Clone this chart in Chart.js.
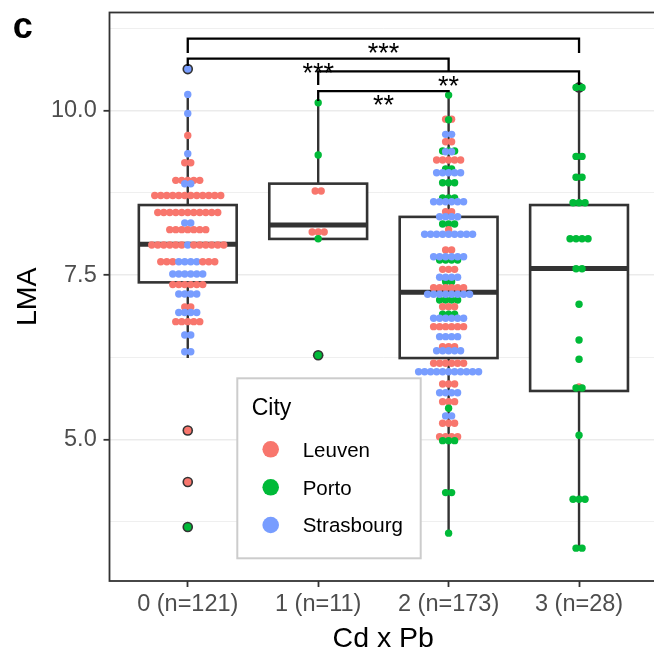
<!DOCTYPE html>
<html><head><meta charset="utf-8">
<script src="https://cdn.jsdelivr.net/npm/chart.js@4.4.1/dist/chart.umd.min.js"></script>
<style>
html,body{margin:0;padding:0;background:#fff;overflow:hidden;width:654px;height:654px}
#wrap{position:absolute;left:0;top:0;width:664px;height:654px}
</style></head><body>
<div id="wrap"><canvas id="c" width="664" height="654"></canvas></div>
<script>
// ---------- data ----------
const categories = ['0 (n=121)', '1 (n=11)', '2 (n=173)', '3 (n=28)'];
const xTitle = 'Cd x Pb';
const yTitle = 'LMA';
const panelTag = 'c';
const cities = ['Leuven', 'Porto', 'Strasbourg'];
const cityCodes = ['L', 'P', 'S'];
const cityColors = ['#F8766D', '#00BA38', '#789DFF'];
const yMajorTicks = [5, 7.5, 10];
const yTickLabels = ['5.0', '7.5', '10.0'];
const yMinorTicks = [3.75, 6.25, 8.75, 11.25];

// boxplot statistics per group
const boxQ1     = [7.39, 8.05, 6.24, 5.74];
const boxMedian = [7.97, 8.26, 7.24, 7.60];
const boxQ3     = [8.565, 8.89, 8.385, 8.565];
const whiskerLo = [6.24, 8.05, 3.58, 3.35];
const whiskerHi = [10.25, 10.12, 10.24, 10.35];

// beeswarm rows: LMA value of the row, and the cities of its points from left to right
const g0LMA = [10.63, 10.246, 9.957, 9.623, 9.344, 9.207, 8.94, 8.888, 8.709, 8.451, 8.292, 8.191, 7.957, 7.704, 7.517, 7.356, 7.213, 7.016, 6.933, 6.793, 6.591, 6.337, 5.14, 4.356, 3.673];
const g0Pts = ['S','S','S','L','S','LL','LLLLL','SS','LLLLLLLLLLLL','LLLLLLLLLLL','SS','LLLLLLL','LLLLLLSLLLLLL','LLLSSSSLLL','SSSSSS','LLLLLL','SSSS','LL','SSSS','LLLLL','SS','SS','L','L','P'];

const g1LMA = [10.12, 9.324, 8.778, 8.155, 8.053, 6.282];
const g1Pts = ['P','P','LL','LLL','P','P'];

const g2LMA = [10.235, 9.87, 9.86, 9.639, 9.526, 9.385, 9.374, 9.248, 9.115, 9.055, 8.904, 8.671, 8.615, 8.463, 8.387, 8.276, 8.19, 8.12, 7.882, 7.73, 7.78, 7.588, 7.40, 7.467, 7.309, 7.122, 7.209, 7.02, 6.905, 6.844, 6.717, 6.565, 6.413, 6.352, 6.161, 6.033, 5.847, 5.714, 5.578, 5.478, 5.361, 5.25, 5.046, 4.985, 4.196, 3.58];
const g2Pts = ['P','LL','P','SS','LL','PPP','SS','LLLLL','PP','SSSSS','PPP','PPP','SSSSSS','LL','SSSS','PPP','L','SSSSSSSSS','LL','PPPP','SSSSSS','LLL','PP','SSSS','LLLLLL','PPPP','SSSSSSSS','LLL','PPP','SSSSSS','LLLLLL','SSSS','LLL','SSSSS','LLLLLL','SSSSSSSSSSS','LLL','SSSS','LLL','P','SS','LLL','LLLL','PPP','PP','P'];

const g3LMA = [10.352, 9.304, 8.986, 8.60, 8.053, 7.598, 7.057, 6.515, 6.222, 5.80, 5.786, 5.068, 4.096, 3.352];
const g3Pts = ['PP','PP','PP','PPP','PPPP','PP','P','P','P','L','PP','P','PPP','PP'];

// significance brackets
const brkFrom  = [1, 1, 2, 2];
const brkTo    = [4, 3, 4, 3];
const brkY     = [11.093, 10.79, 10.595, 10.296];
const brkFromEnd = [10.873, 10.676, 10.387, 10.144];
const brkToEnd   = [10.873, 10.60, 10.39, 10.28];
const brkLabel = ['***', '***', '**', '**'];

// ---------- styling constants ----------
const FONT = "'Liberation Sans', Arial, Helvetica, sans-serif";
const swarmStep = 0.046;   // x units between neighbouring swarm points
const boxHalf = 0.375;
const groupLMA = [g0LMA, g1LMA, g2LMA, g3LMA];
const groupPts = [g0Pts, g1Pts, g2Pts, g3Pts];

const swarm = [], outliers = [];
groupLMA.forEach((rows, g) => {
  rows.forEach((v, r) => {
    const s = groupPts[g][r];
    const n = s.length;
    if (v > whiskerHi[g] + 1e-6 || v < whiskerLo[g] - 1e-6) outliers.push({x: g + 1, y: v});
    for (let i = 0; i < n; i++) {
      swarm.push({x: g + 1 + (i - (n - 1) / 2) * swarmStep, y: v, c: cityCodes.indexOf(s[i])});
    }
  });
});

Chart.defaults.font.family = FONT;

function textMid(ctx, str) {
  const m = ctx.measureText(str);
  return (m.actualBoundingBoxAscent - m.actualBoundingBoxDescent) / 2;
}

const custom = {
  id: 'custom',
  beforeDatasetsDraw(chart) {
    const {ctx, scales: {x, y}} = chart;
    ctx.save();
    ctx.strokeStyle = '#333333';
    ctx.lineCap = 'butt';
    for (let g = 0; g < 4; g++) {
      const cx = x.getPixelForValue(g + 1);
      const xl = x.getPixelForValue(g + 1 - boxHalf);
      const xr = x.getPixelForValue(g + 1 + boxHalf);
      const yq1 = y.getPixelForValue(boxQ1[g]);
      const yq3 = y.getPixelForValue(boxQ3[g]);
      ctx.lineWidth = 2.4;
      ctx.beginPath();
      ctx.moveTo(cx, yq3); ctx.lineTo(cx, y.getPixelForValue(whiskerHi[g]));
      ctx.moveTo(cx, yq1); ctx.lineTo(cx, y.getPixelForValue(whiskerLo[g]));
      ctx.stroke();
      ctx.fillStyle = '#ffffff';
      ctx.fillRect(xl, yq3, xr - xl, yq1 - yq3);
      ctx.lineWidth = 2.6;
      ctx.strokeRect(xl, yq3, xr - xl, yq1 - yq3);
      ctx.lineWidth = 5.0;
      const ym = y.getPixelForValue(boxMedian[g]);
      ctx.beginPath(); ctx.moveTo(xl, ym); ctx.lineTo(xr, ym); ctx.stroke();
    }
    ctx.restore();
  },
  afterDatasetsDraw(chart) {
    const {ctx, chartArea: a, scales: {x, y}} = chart;
    ctx.save();
    // panel border
    ctx.strokeStyle = '#333333';
    ctx.lineWidth = 1.8;
    ctx.strokeRect(a.left, a.top, a.right - a.left, a.bottom - a.top);
    // brackets
    ctx.strokeStyle = '#000000';
    ctx.lineWidth = 2.3;
    ctx.fillStyle = '#000000';
    ctx.font = '27px ' + FONT;
    ctx.textAlign = 'center';
    ctx.textBaseline = 'alphabetic';
    for (let i = 0; i < brkFrom.length; i++) {
      const x1 = x.getPixelForValue(brkFrom[i]);
      const x2 = x.getPixelForValue(brkTo[i]);
      const yb = y.getPixelForValue(brkY[i]);
      ctx.beginPath();
      ctx.moveTo(x1, y.getPixelForValue(brkFromEnd[i]));
      ctx.lineTo(x1, yb); ctx.lineTo(x2, yb);
      ctx.lineTo(x2, y.getPixelForValue(brkToEnd[i]));
      ctx.stroke();
      const cyStar = yb + 9.3;
      ctx.fillText(brkLabel[i], (x1 + x2) / 2, cyStar + textMid(ctx, brkLabel[i]));
    }
    // legend
    const lx = 237.3, ly = 378.3, lw = 183.4, lh = 180;
    ctx.fillStyle = '#ffffff';
    ctx.fillRect(lx, ly, lw, lh);
    ctx.strokeStyle = '#CCCCCC';
    ctx.lineWidth = 2;
    ctx.strokeRect(lx, ly, lw, lh);
    ctx.fillStyle = '#000000';
    ctx.textAlign = 'left';
    ctx.font = '23px ' + FONT;
    ctx.fillText('City', 251.7, 414.8);
    const keyY = [449.3, 487.3, 525];
    cities.forEach((name, i) => {
      ctx.fillStyle = cityColors[i];
      ctx.beginPath(); ctx.arc(270.7, keyY[i], 8.3, 0, Math.PI * 2); ctx.fill();
      ctx.fillStyle = '#000000';
      ctx.font = '20.5px ' + FONT;
      ctx.fillText(name, 302.7, keyY[i] + 7.4);
    });
    // axis titles
    ctx.fillStyle = '#000000';
    ctx.font = '28.5px ' + FONT;
    ctx.textAlign = 'center';
    ctx.fillText(xTitle, (a.left + 654) / 2 + 1.5, 647.4);
    ctx.save();
    ctx.translate(26, (a.top + a.bottom) / 2);
    ctx.rotate(-Math.PI / 2);
    ctx.fillText(yTitle, 0, textMid(ctx, yTitle));
    ctx.restore();
    // panel tag
    ctx.font = 'bold 36px ' + FONT;
    ctx.textAlign = 'left';
    const m = ctx.measureText(panelTag);
    ctx.fillText(panelTag, 11.7 - m.actualBoundingBoxLeft, 38.3);
    ctx.restore();
  }
};

const allYTicks = yMinorTicks.concat(yMajorTicks).sort((p, q) => p - q);
const isMajor = v => yMajorTicks.some(t => Math.abs(t - v) < 1e-9);

new Chart(document.getElementById('c'), {
  type: 'scatter',
  data: {
    datasets: [
      {
        data: swarm,
        pointBackgroundColor: swarm.map(p => cityColors[p.c]),
        pointBorderWidth: 0,
        pointRadius: 3.7,
        pointHoverRadius: 3.7
      },
      {
        data: outliers,
        pointBackgroundColor: '#333333',
        pointBorderWidth: 0,
        pointRadius: 5.3,
        pointHoverRadius: 5.3
      }
    ]
  },
  options: {
    responsive: false,
    animation: false,
    devicePixelRatio: 1,
    layout: {padding: {left: 0, right: 6.7, top: 12.5, bottom: 0}},
    plugins: {legend: {display: false}, tooltip: {enabled: false}},
    scales: {
      x: {
        type: 'linear', min: 0.4, max: 4.6,
        afterBuildTicks: s => { s.ticks = [1, 2, 3, 4].map(v => ({value: v})); },
        afterFit: s => { s.height = 73; s.paddingLeft = 0; s.paddingRight = 0; },
        ticks: {
          callback: v => categories[Math.round(v) - 1] || '',
          color: '#4D4D4D', font: {size: 23.5}, padding: 3, maxRotation: 0, autoSkip: false
        },
        grid: {drawOnChartArea: false, drawTicks: true, tickLength: 6, tickColor: '#333333', tickWidth: 1.8},
        border: {display: false}
      },
      y: {
        type: 'linear', min: 2.853, max: 11.49,
        afterBuildTicks: s => { s.ticks = allYTicks.map(v => ({value: v})); },
        afterFit: s => { s.width = 109.5; s.paddingTop = 0; s.paddingBottom = 0; },
        ticks: {
          callback: v => { const i = yMajorTicks.findIndex(t => Math.abs(t - v) < 1e-9); return i >= 0 ? yTickLabels[i] : ''; },
          color: '#4D4D4D', font: {size: 23.5}, padding: 6.8, autoSkip: false
        },
        grid: {
          color: '#EBEBEB',
          lineWidth: ctx => (ctx.tick && isMajor(ctx.tick.value)) ? 1.6 : 0.8,
          tickColor: ctx => (ctx.tick && isMajor(ctx.tick.value)) ? '#333333' : 'rgba(0,0,0,0)',
          tickLength: 6, tickWidth: 1.8, drawTicks: true
        },
        border: {display: false}
      }
    }
  },
  plugins: [custom]
});
</script>
</body></html>
